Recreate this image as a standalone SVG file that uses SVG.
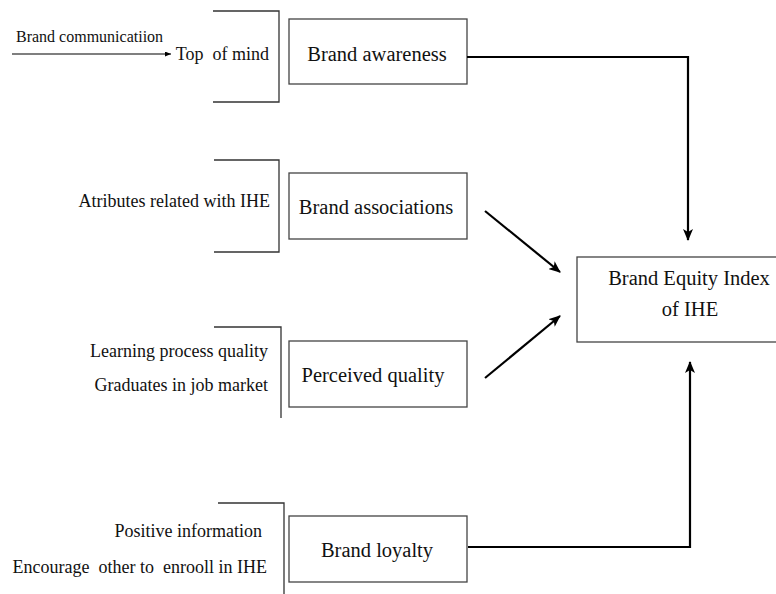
<svg xmlns="http://www.w3.org/2000/svg" width="776" height="594" viewBox="0 0 776 594">
<defs>
<marker id="ah" markerWidth="12" markerHeight="10" refX="11" refY="5" orient="auto" markerUnits="userSpaceOnUse">
<path d="M0,0 L12,5 L0,10 L3,5 Z" fill="#000"/>
</marker>
<marker id="ahs" markerWidth="6" markerHeight="5" refX="6" refY="2.5" orient="auto" markerUnits="userSpaceOnUse">
<path d="M0,0 L6,2.5 L0,5 Z" fill="#000"/>
</marker>
<style>
.box{fill:#fff;stroke:#444;stroke-width:1.3}
.br{fill:none;stroke:#333;stroke-width:1.3}
text{font-family:'Liberation Serif','Times New Roman','DejaVu Serif',serif;fill:#111}
.bt{font-size:20.5px;text-anchor:middle}
.lt{font-size:18px;text-anchor:end}
.c{fill:none;stroke:#000;stroke-width:2.2}
</style>
</defs>
<rect width="776" height="594" fill="#fff"/>
<g id="awareness-group">
<path class="br" d="M213,11 H279 V102 H213"/>
<text x="16" y="42" font-size="16">Brand communicatiion</text>
<line x1="12" y1="54" x2="171" y2="54" stroke="#000" stroke-width="1.2" marker-end="url(#ahs)"/>
<text class="lt" x="269" y="60" xml:space="preserve">Top  of mind</text>
</g>
<g id="brand-awareness">
<rect class="box" x="289" y="19" width="178" height="65"/>
<text class="bt" x="377" y="61">Brand awareness</text>
</g>
<g id="associations-group">
<path class="br" d="M214,160 H279 V252 H214"/>
<text class="lt" x="270" y="207">Atributes related with IHE</text>
</g>
<g id="brand-associations">
<rect class="box" x="289" y="173" width="178" height="66"/>
<text class="bt" x="376" y="214">Brand associations</text>
</g>
<g id="quality-group">
<path class="br" d="M214,327 H281 V418"/>
<text class="lt" x="268" y="357">Learning process quality</text>
<text class="lt" x="268" y="391">Graduates in job market</text>
</g>
<g id="perceived-quality">
<rect class="box" x="289" y="341" width="178" height="66"/>
<text class="bt" x="373" y="382">Perceived quality</text>
</g>
<g id="loyalty-group">
<path class="br" d="M218,503 H284 V594"/>
<text class="lt" x="262" y="537">Positive information</text>
<text class="lt" x="267" y="573" xml:space="preserve">Encourage  other to  enrooll in IHE</text>
</g>
<g id="brand-loyalty">
<rect class="box" x="289" y="516" width="178" height="66"/>
<text class="bt" x="377" y="557">Brand loyalty</text>
</g>
<g id="brand-equity-index">
<rect class="box" x="577" y="257" width="205" height="85"/>
<text class="bt" x="689" y="285">Brand Equity Index</text>
<text class="bt" x="690" y="316">of IHE</text>
</g>
<g id="connectors">
<path class="c" d="M467,57 H688 V240" marker-end="url(#ah)"/>
<line class="c" x1="485" y1="211" x2="560" y2="272" marker-end="url(#ah)"/>
<line class="c" x1="485" y1="378" x2="560" y2="316" marker-end="url(#ah)"/>
<path class="c" d="M468,547 H690 V362" marker-end="url(#ah)"/>
</g>
</svg>
